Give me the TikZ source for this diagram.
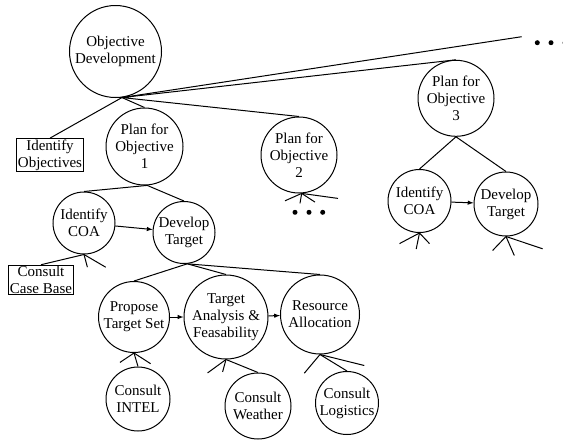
\documentclass[tikz,border=0pt]{standalone}
\usepackage{fontspec}
\setmainfont{Liberation Serif}
\usetikzlibrary{arrows,positioning}
\tikzset{
	goal/.style={
		circle,
		draw,
		line width=1pt,
		inner sep=0pt,
		align=center,
		minimum size=#1,
		font=\fontsize{15}{17}\selectfont
	}
}
\tikzstyle{task}=[
	rectangle,
	draw,
	line width=1pt,
	inner sep=1pt,
	align=center,
	font=\fontsize{15}{17}\selectfont
]
\tikzstyle{link}=[
	line width=1pt
]
\tikzstyle{flow}=[
	->,
	>=latex,
	line width=1pt
]

\begin{document}
\begin{tikzpicture}[x=1pt,y=1pt,on grid]
\useasboundingbox (0,0) rectangle (563,-440);
% top level
\node [goal=92pt] (ObjDev) at (115.5,-51.5) {Objective\\Development};
\node [task] (IdObj)[below left=103.5pt and 65.5pt of ObjDev] {Identify\\Objectives};
\node [goal=77pt] (Plan1)[below right=95pt and 29pt of ObjDev] {Plan for\\Objective\\1};
\node [goal=76pt] (Plan2)[below right=103.5pt and 183.5pt of ObjDev] {Plan for\\Objective\\2};
\node [goal=76pt] (Plan3)[below right=46.8pt and 340.5pt of ObjDev] {Plan for\\Objective\\3};
\coordinate (More) at (521.7,-36.7);
% objective 1
\node [goal=62pt] (IdCOA1)[below left=76.5pt and 60.5pt of Plan1] {Identify\\COA};
\node [goal=62pt] (DevTgt1)[below right=86pt and 39.5pt of Plan1] {Develop\\Target};
\node [task] (CaseBase)[below left=57pt and 43pt of IdCOA1] {Consult\\Case Base};
\node [goal=71pt] (Propose)[below left=84.5pt and 50pt of DevTgt1] {Propose\\Target Set};
\node [goal=84pt] (Analysis)[right=92pt of Propose] {Target\\Analysis \&\\Feasability};
\node [goal=79pt] (Resource)[above right=2.5pt and 94pt of Analysis] {Resource\\Allocation};
\node [goal=64pt] (Intel)[below right=82pt and 4pt of Propose] {Consult\\INTEL};
\node [goal=66pt] (Weather)[below right=89pt and 32pt of Analysis] {Consult\\Weather};
\node [goal=63pt] (Logistics)[below right=88.5pt and 27pt of Resource] {Consult\\Logistics};
% objective 3
\node [goal=63pt] (IdCOA3)[below left=102.7pt and 36.5pt of Plan3] {Identify\\COA};
\node [goal=64pt] (DevTgt3)[below right=105.7pt and 50pt of Plan3] {Develop\\Target};

% decomposition
\draw [link] (IdObj.north) -- (ObjDev.-82) -- (Plan1.north);
\draw [link] (Plan2.north) -- (ObjDev.-82) -- (Plan3.north);
\draw [link] (ObjDev.-82) -- (More);
\draw [link] (IdCOA1.north) -- (Plan1.-86) -- (DevTgt1.north);
\draw [link] (CaseBase.north) -- (IdCOA1.south);
\draw [link] (Propose.north) -- (DevTgt1.-84) -- (Analysis.north);
\draw [link] (DevTgt1.-84) -- (Resource.north);
\draw [link] (Intel.north) -- (Propose.south);
\draw [link] (Weather.north) -- (Analysis.south);
\draw [link] (Logistics.north) -- (Resource.south);
\draw [link] (IdCOA3.north) -- (Plan3.south) -- (DevTgt3.north);

% sequence
\draw [flow] (IdCOA1) -- (DevTgt1);
\draw [flow] (Propose) -- (Analysis);
\draw [flow] (Analysis) -- (Resource);
\draw [flow] (IdCOA3) -- (DevTgt3);

% unexpanded children
\draw [link] (IdCOA1.south) -- ++(3.4,-12.7);
\draw [link] (IdCOA1.south) -- ++(21.7,-12.7);
\draw [link] (Plan2.-86) -- ++(-16.7,-7.4);
\draw [link] (Plan2.-86) -- ++(-1.7,-10);
\draw [link] (Plan2.-86) -- ++(13.3,-8.7);
\draw [link] (Plan2.-86) -- ++(36.3,-5);
\draw [link] (IdCOA3.south) -- ++(-20,-10.6);
\draw [link] (IdCOA3.south) -- ++(-3.3,-16);
\draw [link] (IdCOA3.south) -- ++(10,-10.6);
\draw [link] (DevTgt3.south) -- ++(-13.4,-14);
\draw [link] (DevTgt3.south) -- ++(8.3,-19);
\draw [link] (DevTgt3.south) -- ++(36.6,-12.3);
\draw [link] (Propose.south) -- ++(-14,-9.4);
\draw [link] (Propose.south) -- ++(16.6,-10.7);
\draw [link] (Analysis.south) -- ++(-18.4,-13.4);
\draw [link] (Analysis.south) -- ++(-3.4,-12.4);
\draw [link] (Resource.south) -- ++(-15.7,-18.7);
\draw [link] (Resource.south) -- ++(44.3,-11);

% more objectives
\foreach \x in {537.3,551,565}
	\fill (\x,-42.7) circle (2.5pt);
\foreach \x in {295,309,322.7}
	\fill (\x,-212.3) circle (2.5pt);
\end{tikzpicture}
\end{document}
